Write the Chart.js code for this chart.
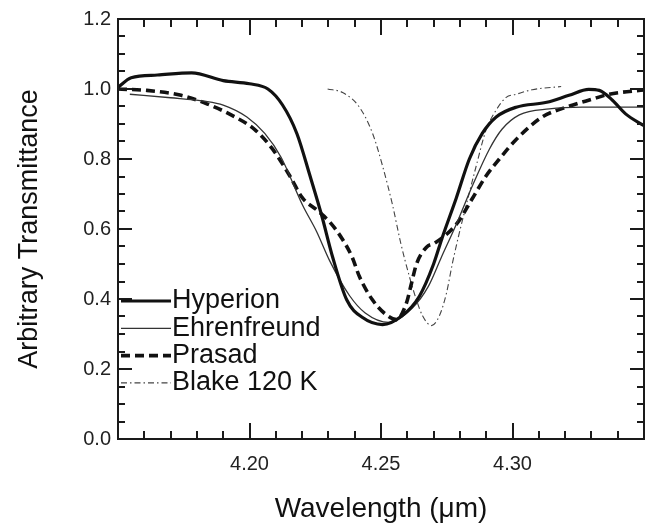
<!DOCTYPE html>
<html>
<head>
<meta charset="utf-8">
<script src="https://cdn.jsdelivr.net/npm/chart.js@4.4.1/dist/chart.umd.min.js"></script>
<style>
  html, body { margin: 0; padding: 0; background: #fff; overflow: hidden; }
  canvas { display: block; }
</style>
</head>
<body>
<canvas id="chart" width="645" height="526"></canvas>
<script>
// ====== DATA (wavelength in um, transmittance) ======
const hypX = [4.150, 4.155, 4.165, 4.178, 4.190, 4.200, 4.207, 4.2125, 4.218, 4.223, 4.2274, 4.2316, 4.237, 4.243, 4.2506,
              4.258, 4.2646, 4.270, 4.2733, 4.2786, 4.2836, 4.2885, 4.2938, 4.3014, 4.313, 4.3215, 4.329, 4.333, 4.338, 4.343, 4.350];
const hypY = [1.005, 1.032, 1.040, 1.046, 1.024, 1.015, 1.000, 0.955, 0.873, 0.752, 0.640, 0.520, 0.397, 0.347, 0.327,
              0.352, 0.408, 0.500, 0.576, 0.688, 0.800, 0.873, 0.920, 0.948, 0.962, 0.982, 0.999, 0.996, 0.968, 0.929, 0.895];

const ehrX = [4.1545, 4.170, 4.183, 4.190, 4.199, 4.2058, 4.212, 4.2202, 4.2255, 4.2305, 4.238, 4.244, 4.253, 4.262,
              4.268, 4.273, 4.2786, 4.2848, 4.2912, 4.296, 4.3026, 4.314, 4.3265, 4.350];
const ehrY = [0.985, 0.975, 0.965, 0.954, 0.920, 0.873, 0.805, 0.668, 0.593, 0.509, 0.410, 0.360, 0.333, 0.375,
              0.436, 0.520, 0.613, 0.724, 0.828, 0.885, 0.926, 0.943, 0.948, 0.948];

const praX = [4.150, 4.161, 4.174, 4.184, 4.193, 4.202, 4.2088, 4.2153, 4.2202, 4.2255, 4.2305, 4.2354, 4.239, 4.2418,
              4.2468, 4.252, 4.2559, 4.2597, 4.2616, 4.2635, 4.2673, 4.2705, 4.2786, 4.2848, 4.290, 4.295, 4.3014,
              4.3113, 4.3204, 4.3303, 4.3367, 4.350];
const praY = [1.000, 0.996, 0.982, 0.957, 0.926, 0.884, 0.828, 0.752, 0.688, 0.655, 0.620, 0.570, 0.520, 0.464,
              0.397, 0.355, 0.341, 0.389, 0.445, 0.500, 0.548, 0.560, 0.613, 0.688, 0.752, 0.800, 0.856,
              0.920, 0.948, 0.971, 0.985, 0.997];

const blkX = [4.2297, 4.2354, 4.2418, 4.2468, 4.2506, 4.2544, 4.2575, 4.2608, 4.2635, 4.2658, 4.2692, 4.2722, 4.2749,
              4.2771, 4.2795, 4.2824, 4.2862, 4.290, 4.2938, 4.2976, 4.3014, 4.3075, 4.3185];
const blkY = [1.000, 0.990, 0.948, 0.873, 0.780, 0.668, 0.560, 0.464, 0.397, 0.352, 0.324, 0.352, 0.417,
              0.500, 0.580, 0.668, 0.780, 0.884, 0.940, 0.976, 0.985, 0.998, 1.007];

const seriesNames = ['Hyperion', 'Ehrenfreund', 'Prasad', 'Blake 120 K'];
const xTickLabels = ['4.20', '4.25', '4.30'];

const FONT = "'Liberation Sans', Arial, Helvetica, sans-serif";

const pts = (xs, ys) => xs.map((x, i) => ({ x, y: ys[i] }));

// ====== PLUGINS ======
// frame + inward ticks on all four sides
const frameTicks = {
  id: 'frameTicks',
  afterDraw(chart) {
    const { ctx, chartArea: a, scales: { x, y } } = chart;
    ctx.save();
    ctx.strokeStyle = '#1a1a1a';
    ctx.lineWidth = 2;
    ctx.strokeRect(a.left, a.top, a.right - a.left, a.bottom - a.top);
    ctx.beginPath();
    for (let k = 0; k <= 20; k++) {
      const px = Math.round(x.getPixelForValue(4.15 + k * 0.01));
      const len = k % 5 === 0 ? 16 : 8;
      ctx.moveTo(px, a.bottom); ctx.lineTo(px, a.bottom - len);
      ctx.moveTo(px, a.top);    ctx.lineTo(px, a.top + len);
    }
    for (let k = 0; k <= 24; k++) {
      const py = Math.round(y.getPixelForValue(k * 0.05));
      const len = k % 4 === 0 ? 14 : 7;
      ctx.moveTo(a.left, py);  ctx.lineTo(a.left + len, py);
      ctx.moveTo(a.right, py); ctx.lineTo(a.right - len, py);
    }
    ctx.stroke();
    ctx.restore();
  }
};

// legend drawn inside the plot, lower left
const insideLegend = {
  id: 'insideLegend',
  afterDraw(chart) {
    const { ctx, chartArea: a } = chart;
    ctx.save();
    ctx.font = `27px ${FONT}`;
    ctx.textBaseline = 'middle';
    ctx.fillStyle = '#111';
    chart.data.datasets.forEach((ds, i) => {
      const yy = a.top + 282 + i * 27.3;
      ctx.beginPath();
      ctx.strokeStyle = ds.borderColor;
      ctx.lineWidth = ds.borderWidth;
      ctx.setLineDash(ds.borderDash || []);
      ctx.moveTo(a.left + 3, yy); ctx.lineTo(a.left + 53, yy);
      ctx.stroke();
      ctx.setLineDash([]);
      ctx.fillText(ds.label, a.left + 54, yy);
    });
    ctx.restore();
  }
};

// ====== CHART ======
const common = { pointRadius: 0, fill: false, cubicInterpolationMode: 'monotone' };

new Chart(document.getElementById('chart').getContext('2d'), {
  type: 'line',
  data: {
    datasets: [
      { ...common, label: seriesNames[0], data: pts(hypX, hypY), borderColor: '#111', borderWidth: 3.2 },
      { ...common, label: seriesNames[1], data: pts(ehrX, ehrY), borderColor: '#333', borderWidth: 1.3 },
      { ...common, label: seriesNames[2], data: pts(praX, praY), borderColor: '#111', borderWidth: 3.6, borderDash: [9, 5] },
      { ...common, label: seriesNames[3], data: pts(blkX, blkY), borderColor: '#444', borderWidth: 1.1, borderDash: [6, 3, 1.5, 3] }
    ]
  },
  options: {
    responsive: false,
    animation: false,
    layout: { padding: { top: 11, right: 1, left: 0, bottom: 0 } },
    plugins: { legend: { display: false }, tooltip: { enabled: false } },
    scales: {
      x: {
        type: 'linear', min: 4.15, max: 4.35,
        grid: { display: false, drawTicks: false },
        border: { display: false },
        ticks: {
          stepSize: 0.05, autoSkip: false, maxRotation: 0, padding: 13,
          color: '#222', font: { family: FONT, size: 20 },
          callback: (v) => {
            const s = Number(v).toFixed(2);
            return xTickLabels.includes(s) ? s : '';
          }
        },
        title: { display: true, text: 'Wavelength (\u03bcm)', color: '#111', font: { family: FONT, size: 28 }, padding: 0 },
        afterFit: (s) => { s.height = 87; s.paddingRight = 0; s.paddingLeft = 0; }
      },
      y: {
        min: 0, max: 1.2,
        grid: { display: false, drawTicks: false },
        border: { display: false },
        ticks: {
          stepSize: 0.2, padding: 7,
          color: '#222', font: { family: FONT, size: 20 },
          callback: (v) => Number(v).toFixed(1)
        },
        title: { display: true, text: 'Arbitrary Transmittance', color: '#111', font: { family: FONT, size: 27 }, padding: { top: 13, bottom: 0 } },
        afterFit: (s) => { s.width = 118; }
      }
    }
  },
  plugins: [frameTicks, insideLegend]
});
</script>
</body>
</html>
